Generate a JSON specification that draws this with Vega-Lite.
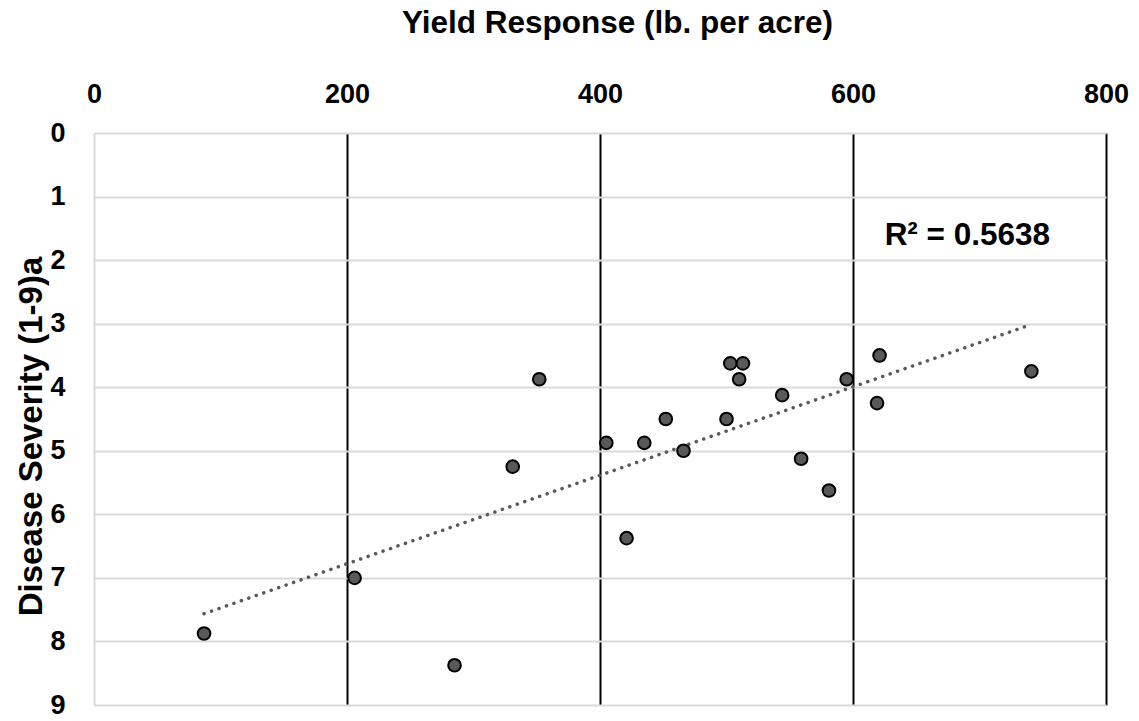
{
  "$schema": "https://vega.github.io/schema/vega-lite/v6.json",
  "width": 1012,
  "height": 572,
  "autosize": "none",
  "padding": {"left": 94, "top": 133, "right": 33, "bottom": 16},
  "background": "white",
  "config": {
    "view": {"stroke": null},
    "font": "Liberation Sans",
    "axis": {"domain": false, "ticks": false, "labelFlush": false, "labelOverlap": false, "labelFont": "Liberation Sans", "titleFont": "Liberation Sans", "labelFontWeight": "bold", "titleFontWeight": "bold", "labelColor": "black", "titleColor": "black"}
  },
  "datasets": {
    "plots": [
      {"yield": 87, "severity": 7.875},
      {"yield": 206, "severity": 7},
      {"yield": 285, "severity": 8.375},
      {"yield": 331, "severity": 5.25},
      {"yield": 352, "severity": 3.875},
      {"yield": 405, "severity": 4.875},
      {"yield": 421, "severity": 6.375},
      {"yield": 435, "severity": 4.875},
      {"yield": 452, "severity": 4.5},
      {"yield": 466, "severity": 5},
      {"yield": 500, "severity": 4.5},
      {"yield": 503, "severity": 3.625},
      {"yield": 510, "severity": 3.875},
      {"yield": 513, "severity": 3.625},
      {"yield": 544, "severity": 4.125},
      {"yield": 559, "severity": 5.125},
      {"yield": 581, "severity": 5.625},
      {"yield": 595, "severity": 3.875},
      {"yield": 619, "severity": 4.25},
      {"yield": 621, "severity": 3.5},
      {"yield": 741, "severity": 3.75}
    ],
    "fitLabel": [
      {"yield": 625, "severity": 1.76, "label": "R² = 0.5638"}
    ]
  },
  "layer": [
    {
      "data": {"name": "plots"},
      "transform": [{"regression": "severity", "on": "yield"}],
      "mark": {"type": "line", "color": "#595959", "strokeWidth": 3.5, "strokeCap": "round", "strokeDash": [0.1, 7.8]},
      "encoding": {
        "x": {"field": "yield", "type": "quantitative"},
        "y": {"field": "severity", "type": "quantitative"}
      }
    },
    {
      "data": {"name": "plots"},
      "mark": {"type": "point", "shape": "circle", "filled": true, "fill": "#595959", "stroke": "black", "strokeWidth": 2, "size": 160, "opacity": 1},
      "encoding": {
        "x": {
          "field": "yield", "type": "quantitative",
          "scale": {"domain": [0, 800], "nice": false, "zero": false},
          "axis": {
            "orient": "top",
            "values": [0, 200, 400, 600, 800],
            "format": "d",
            "grid": true,
            "gridColor": {"condition": {"test": "datum.value === 0", "value": "#d9d9d9"}, "value": "black"},
            "gridWidth": 2,
            "gridOpacity": 1,
            "labelFontSize": 27,
            "labelPadding": 25,
            "title": "Yield Response (lb. per acre)",
            "titleFontSize": 31.5,
            "titleX": 523,
            "titleY": -101,
            "titleBaseline": "alphabetic",
            "titleAnchor": "middle"
          }
        },
        "y": {
          "field": "severity", "type": "quantitative",
          "scale": {"domain": [0, 9], "reverse": true, "nice": false, "zero": false},
          "axis": {
            "values": [0, 1, 2, 3, 4, 5, 6, 7, 8, 9],
            "format": "d",
            "grid": true,
            "gridColor": "#d9d9d9",
            "gridWidth": 2,
            "labelFontSize": 27,
            "labelPadding": 29,
            "title": "Disease Severity (1-9)a",
            "titleFontSize": 33,
            "titleAngle": 270,
            "titleAlign": "center",
            "titleBaseline": "middle",
            "titleX": -63,
            "titleY": 303
          }
        }
      }
    },
    {
      "data": {"name": "fitLabel"},
      "mark": {"type": "text", "align": "left", "baseline": "alphabetic", "fontSize": 31.5, "fontWeight": "bold", "color": "black"},
      "encoding": {
        "x": {"field": "yield", "type": "quantitative"},
        "y": {"field": "severity", "type": "quantitative"},
        "text": {"field": "label"}
      }
    }
  ]
}
